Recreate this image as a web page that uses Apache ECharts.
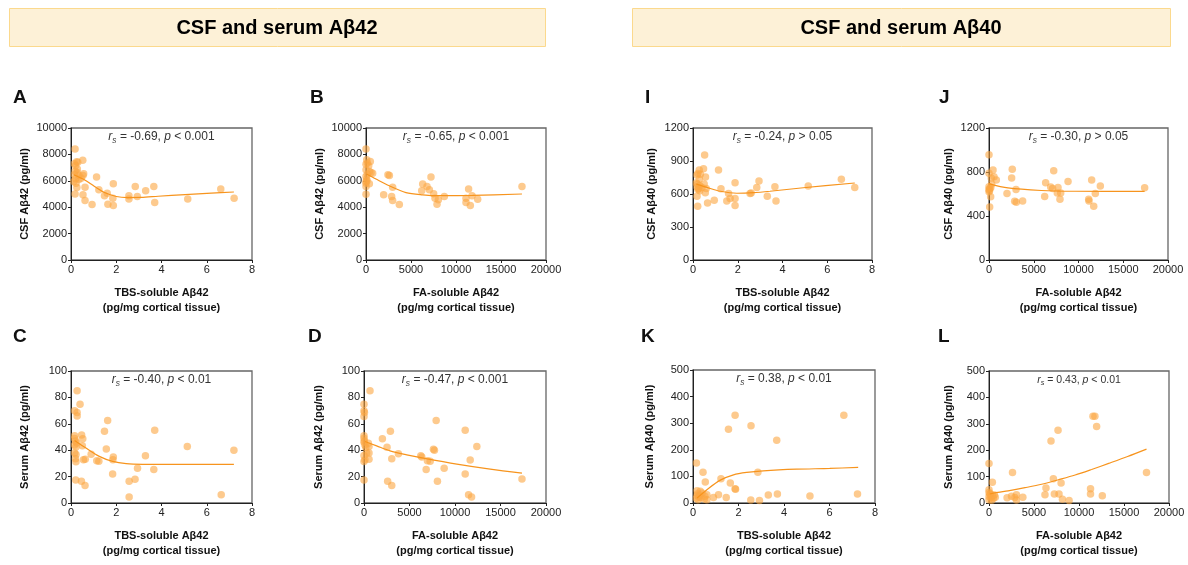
<!DOCTYPE html>
<html>
<head>
<meta charset="utf-8">
<script src="https://cdn.jsdelivr.net/npm/echarts@6/dist/echarts.min.js"></script>
<style>html,body{margin:0;padding:0;background:#fff;}#c{width:1188px;height:565px;}</style>
</head>
<body>
<div id="c"></div>
<script>
// ---------- data ----------
const headers = ['CSF and serum Aβ42', 'CSF and serum Aβ40'];
const panelLetters = ['A', 'B', 'I', 'J', 'C', 'D', 'K', 'L'];
const xNames = ['TBS-soluble Aβ42\n(pg/mg cortical tissue)', 'FA-soluble Aβ42\n(pg/mg cortical tissue)'];
const yNames = ['CSF Aβ42 (pg/ml)', 'CSF Aβ42 (pg/ml)', 'CSF Aβ40 (pg/ml)', 'CSF Aβ40 (pg/ml)',
                'Serum Aβ42 (pg/ml)', 'Serum Aβ42 (pg/ml)', 'Serum Aβ40 (pg/ml)', 'Serum Aβ40 (pg/ml)'];
const statR = ['-0.69', '-0.65', '-0.24', '-0.30', '-0.40', '-0.47', '0.38', '0.43'];
const statP = ['< 0.001', '< 0.001', '> 0.05', '> 0.05', '< 0.01', '< 0.001', '< 0.01', '< 0.01'];
const xMax = [8, 20000, 8, 20000, 8, 20000, 8, 20000];
const xStep = [2, 5000, 2, 5000, 2, 5000, 2, 5000];
const yMax = [10000, 10000, 1200, 1200, 100, 100, 500, 500];
const yStep = [2000, 2000, 300, 400, 20, 20, 100, 100];

const ptsA = [[0.18,8400],[0.25,7450],[0.3,7400],[0.2,7150],[0.52,7550],[0.18,6720],[0.27,6630],[0.15,6460],[0.35,6400],[0.53,6400],[0.56,6530],[0.2,6150],[0.35,6100],[0.12,5950],[0.22,5820],[0.26,5500],[0.62,5520],[0.18,5000],[0.53,4950],[0.62,4500],[0.93,4200],[1.13,6280],[1.23,5320],[1.48,4860],[1.6,5060],[1.63,4230],[1.85,4680],[1.87,5770],[1.87,4130],[2.56,4860],[2.56,4620],[2.84,5570],[2.93,4810],[3.3,5240],[3.66,5570],[3.7,4350],[5.16,4620],[6.62,5370],[7.21,4680],[0.45,6200],[0.28,6900],[0.15,7300]];
const ptsB = [[0,8400],[80,7600],[150,7350],[480,7470],[300,7140],[0,7250],[0,6840],[370,6710],[555,6630],[740,6580],[0,6330],[80,6130],[0,5950],[0,5820],[0,5570],[370,5770],[0,4990],[2440,6460],[2600,6410],[2960,5520],[1960,4940],[2850,4810],[2960,4510],[3700,4200],[6190,5240],[6300,5750],[6780,5570],[7040,5320],[7220,6280],[7520,5010],[7670,4680],[8040,4560],[7890,4230],[8700,4810],[11110,4680],[11110,4350],[11400,5370],[11590,4130],[11780,4860],[12410,4610],[17330,5570],[150,6500],[100,6000]];
const ptsI = [[0.52,955],[0.28,818],[0.22,787],[0.18,773],[0.33,779],[0.47,830],[0.56,754],[0.28,733],[1.14,818],[0.3,675],[0.18,666],[0.25,650],[0.2,690],[0.5,690],[0.22,640],[0.3,630],[0.59,651],[0.18,580],[0.55,611],[0.65,519],[0.21,489],[0.95,544],[1.25,647],[1.51,537],[1.59,605],[1.66,559],[1.88,702],[1.88,559],[1.88,495],[2.55,605],[2.6,608],[2.85,660],[2.95,718],[3.32,580],[3.66,666],[3.71,537],[5.15,672],[6.63,733],[7.23,660],[0.4,660],[0.15,700]];
const ptsJ = [[0,956],[0,788],[450,818],[560,757],[820,727],[250,745],[0,666],[100,650],[0,640],[200,660],[300,690],[60,630],[0,620],[185,574],[74,482],[2010,605],[2600,824],[2530,745],[3020,641],[2870,534],[3050,525],[3760,537],[6220,577],[6330,702],[6890,663],[7230,812],[7110,650],[7710,660],[7630,608],[8010,608],[7930,553],[8830,714],[11140,553],[11170,537],[11470,727],[11700,489],[11880,605],[12440,672],[17390,656]];
const ptsC = [[0.27,85],[0.4,74.8],[0.16,69.8],[0.27,68.5],[0.27,66],[1.62,62.5],[1.48,54.4],[3.7,55.2],[0.47,51.6],[0.16,50.9],[0.16,48.9],[0.52,48.6],[0.2,47],[0.25,45.5],[0.16,44],[0.22,42.5],[0.5,43.3],[1.56,41],[5.14,42.8],[7.2,40],[0.16,37.8],[0.22,36.8],[0.89,37],[1.87,34.8],[1.85,32.8],[3.29,35.8],[1.14,32],[1.23,31.7],[0.55,32.7],[0.63,33.2],[0.22,31.2],[0.2,33.5],[2.94,26.4],[3.66,25.4],[1.84,21.9],[0.21,17.4],[0.46,16.4],[0.62,13.3],[2.57,16.4],[2.83,17.9],[2.57,4.5],[6.64,6.3]];
const ptsD = [[660,85.1],[0,74.8],[0,69.8],[50,68.5],[0,65.5],[0,51],[0,49],[50,47],[0,46],[480,45.3],[550,42.8],[100,44],[290,37.8],[550,37.8],[100,32.7],[550,33.2],[0,31.5],[0,36],[0,17.4],[2020,48.6],[2530,42.3],[2900,54.4],[3780,37.3],[3050,33.5],[2600,16.4],[3050,13.3],[6240,35.8],[6350,34.8],[6970,32],[7270,31.7],[6830,25.4],[7630,40.8],[7740,40],[7930,62.5],[8070,16.4],[8810,26.4],[11120,55.2],[11120,21.9],[12400,42.8],[11670,32.5],[11490,6.3],[11820,4.5],[17360,18.1],[200,42]];
const ptsK = [[0.15,150],[0.44,116],[0.54,79],[0.32,44],[0.18,46],[0.2,35],[0.25,25],[0.15,18],[0.3,30],[0.22,12],[0.35,20],[0.18,28],[0.61,31],[0.61,12],[0.5,15],[0.52,25],[0.9,21],[1.12,31],[1.23,91],[1.46,21],[1.56,277],[1.64,75],[1.85,330],[1.85,54],[1.87,52],[2.55,290],[2.54,11],[2.85,116],[2.92,9],[3.31,30],[3.68,236],[3.71,34],[5.14,26],[6.63,330],[7.23,34],[0.4,38],[0.28,22]];
const ptsL = [[0,150],[370,79],[0,50],[0,40],[100,32],[0,25],[200,20],[0,12],[400,28],[600,30],[500,18],[300,10],[150,35],[700,22],[2010,20],[2500,26],[2610,116],[2870,21],[3050,31],[3050,11],[3760,22],[6220,31],[6330,57],[6890,235],[7150,92],[7260,34],[7670,276],[7780,34],[8010,76],[8160,14],[8900,9],[11280,54],[11280,34],[11550,329],[11770,329],[11960,290],[12590,27],[17500,116]];

const fitA = [[0.12,6460],[0.59,6080],[1.04,5570],[1.48,5110],[2,4810],[2.5,4730],[3.1,4740],[3.85,4830],[5.04,4960],[6.2,5070],[7.2,5150]];
const fitB = [[70,6510],[1110,6130],[2590,5620],[4440,5110],[6300,4940],[8150,4870],[11850,4890],[17330,5000]];
const fitI = [[0.15,690],[0.62,660],[1.22,625],[1.96,607],[2.7,612],[3.44,625],[4.93,657],[7.23,700]];
const fitJ = [[0,695],[2120,655],[5850,632],[9570,625],[17390,623]];
const fitC = [[0.16,47.4],[0.66,41.6],[1.25,35.3],[1.84,31.5],[2.44,29.8],[3.17,29.3],[4.94,29.2],[7.2,29.2]];
const fitD = [[110,46.6],[1390,43.3],[2860,39.5],[4700,36.5],[6530,34],[10200,29.5],[13870,25.7],[17360,22.7]];
const fitK = [[0.18,19],[0.61,50],[1.2,86],[1.78,106],[2.36,115],[3.09,121],[4.55,127],[6.01,130],[7.26,134]];
const fitL = [[75,34],[1000,40],[2120,46],[4000,58],[5850,71],[7700,88],[9570,106],[11400,127],[13300,150],[15400,176],[17500,204]];

const points = [ptsA, ptsB, ptsI, ptsJ, ptsC, ptsD, ptsK, ptsL];
const fits = [fitA, fitB, fitI, fitJ, fitC, fitD, fitK, fitL];

// ---------- layout ----------
const grids = [
  [71,128,181,132],[366,128,180,132],[693,128,179,132],[989,128,179,132],
  [71,371,181,132],[364,371,182,132],[693,370,182,133],[989,371,180,132]
];
const yGaps = [41, 41, 36, 35, 41, 40, 38, 35];
const letterPos = [[13,88],[310,88],[645,88],[939,88],[13,327],[308,327],[641,327],[938,327]];
const statSize = [12,12,12,12,12,12,12,10.5];

const FONT = 'Liberation Sans, Arial, Helvetica, sans-serif';
const option = {
  animation: false,
  backgroundColor: '#fff',
  grid: [], xAxis: [], yAxis: [], series: [], graphic: []
};

// header boxes
[[9,8,536,38],[632,8,538,38]].forEach((b, i) => {
  option.graphic.push({type:'rect', shape:{x:b[0]+0.5,y:b[1]+0.5,width:b[2],height:b[3]},
    style:{fill:'#fdf1d7', stroke:'#fbd98d', lineWidth:1}, z:0});
  option.graphic.push({type:'text', x:b[0]+b[2]/2, y:b[1]+b[3]/2+1,
    style:{text:headers[i], font:'bold 20px ' + FONT, fill:'#000', align:'center', verticalAlign:'middle'}, z:1});
});

const plain = v => String(v);

for (let i = 0; i < 8; i++) {
  const g = grids[i];
  option.grid.push({left:g[0], top:g[1], width:g[2], height:g[3], show:true,
    borderColor:'#666', borderWidth:1.3, backgroundColor:'transparent', containLabel:false});
  option.xAxis.push({type:'value', gridIndex:i, min:0, max:xMax[i], interval:xStep[i],
    axisLine:{show:true, onZero:false, lineStyle:{color:'#222', width:1}},
    axisTick:{show:true, length:3, lineStyle:{color:'#222'}},
    axisLabel:{color:'#222', fontSize:11, margin:4, fontFamily:FONT, formatter:plain},
    splitLine:{show:false},
    name:xNames[i % 2], nameLocation:'middle', nameGap:25,
    nameTextStyle:{fontWeight:'bold', fontSize:11, lineHeight:15, color:'#111', fontFamily:FONT}});
  option.yAxis.push({type:'value', gridIndex:i, min:0, max:yMax[i], interval:yStep[i],
    axisLine:{show:true, onZero:false, lineStyle:{color:'#222', width:1}},
    axisTick:{show:true, length:3, lineStyle:{color:'#222'}},
    axisLabel:{color:'#222', fontSize:11, margin:4, fontFamily:FONT, formatter:plain},
    splitLine:{show:false},
    name:yNames[i], nameLocation:'middle', nameGap:yGaps[i],
    nameTextStyle:{fontWeight:'bold', fontSize:11, color:'#111', fontFamily:FONT}});
  option.series.push({type:'scatter', xAxisIndex:i, yAxisIndex:i, data:points[i],
    symbolSize:7.5, itemStyle:{color:'#fba742', opacity:0.6}, z:2});
  option.series.push({type:'line', xAxisIndex:i, yAxisIndex:i, data:fits[i],
    smooth:0.3, showSymbol:false, symbol:'none',
    lineStyle:{color:'#f7941d', width:1.2}, z:3});
  option.graphic.push({type:'text', left:letterPos[i][0], top:letterPos[i][1],
    style:{text:panelLetters[i], font:'bold 19px ' + FONT, fill:'#111'}});
  const fs = statSize[i];
  option.graphic.push({type:'text', x:g[0]+g[2]/2, y:g[1]+9,
    style:{text:'{i|r}{s|s}{n| = ' + statR[i] + ', }{i|p}{n| ' + statP[i] + '}',
      align:'center', verticalAlign:'middle',
      rich:{
        i:{fontStyle:'italic', fontSize:fs, fill:'#333', fontFamily:FONT},
        s:{fontStyle:'italic', fontSize:fs*0.7, fill:'#333', fontFamily:FONT, padding:[fs*0.55,0,0,0]},
        n:{fontSize:fs, fill:'#333', fontFamily:FONT}
      }}, z:5});
}

const chart = echarts.init(document.getElementById('c'), null, {renderer:'canvas'});
chart.setOption(option);
</script>
</body>
</html>
